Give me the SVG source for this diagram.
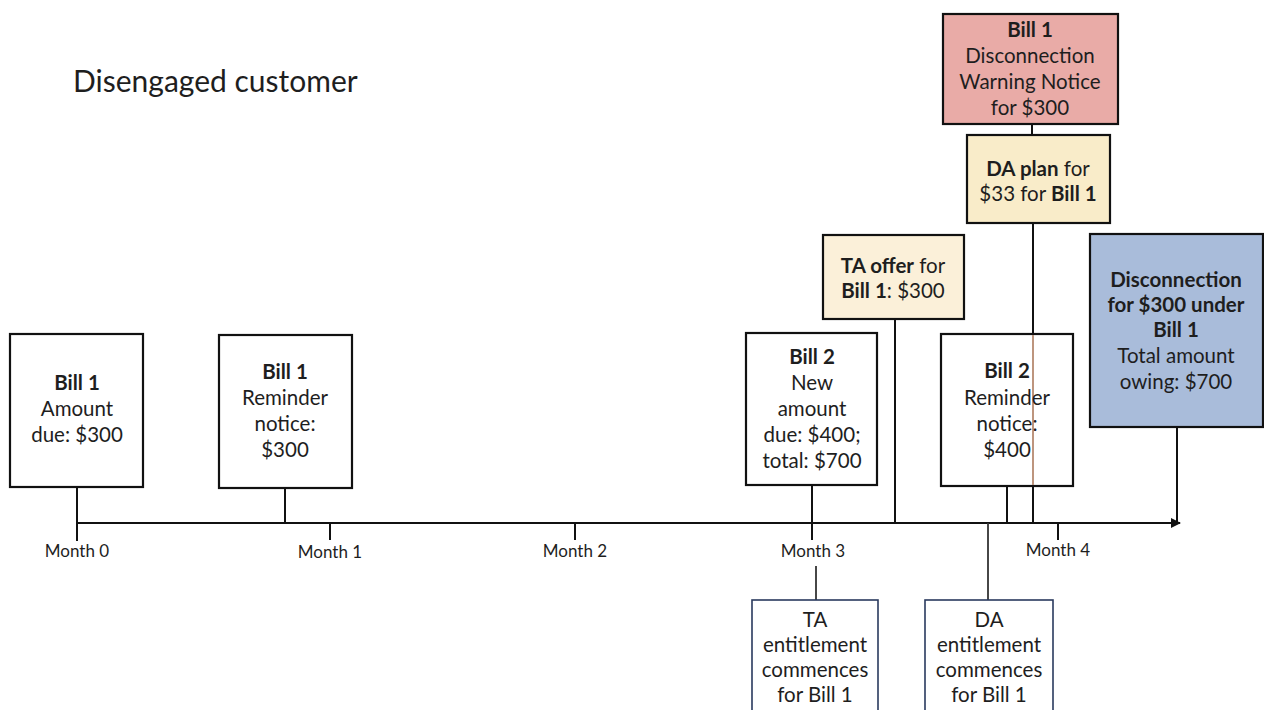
<svg xmlns="http://www.w3.org/2000/svg" width="1264" height="710" viewBox="0 0 1264 710">
<defs>
<style>
text{font-family:Lato,"Liberation Sans",sans-serif;fill:#1e1e1e;text-anchor:middle}
.t{font-size:20.5px}
.b{font-weight:bold}
.m{font-size:17px}
.title{font-size:30px;text-anchor:start}
.box{stroke:#111;stroke-width:2.2}
.ent{fill:#fff;stroke:#2a3a5e;stroke-width:1.6}
.ln{stroke:#111;stroke-width:2;fill:none}
.ln2{stroke:#333;stroke-width:1.8;fill:none}
</style>
<marker id="arr" viewBox="0 0 10 10" refX="9" refY="5" markerWidth="10" markerHeight="10" markerUnits="userSpaceOnUse" orient="auto">
<path d="M0,0 L10,5 L0,10 z" fill="#111"/>
</marker>
</defs>
<rect width="1264" height="710" fill="#fff"/>
<text class="title" x="73" y="92">Disengaged customer</text>

<g id="connectors">
<line class="ln" x1="76" y1="523" x2="1180" y2="523" marker-end="url(#arr)"/>
<line class="ln" x1="77" y1="487" x2="77" y2="541"/>
<line class="ln" x1="285" y1="488" x2="285" y2="523"/>
<line class="ln" x1="330" y1="523" x2="330" y2="540"/>
<line class="ln" x1="575" y1="523" x2="575" y2="540"/>
<line class="ln" x1="812" y1="485" x2="812" y2="540"/>
<line class="ln2" x1="816" y1="566" x2="816" y2="600"/>
<line class="ln" x1="895" y1="319" x2="895" y2="523"/>
<line class="ln2" x1="988" y1="523" x2="988" y2="600"/>
<line class="ln" x1="1007" y1="486" x2="1007" y2="523"/>
<line class="ln" x1="1032" y1="124" x2="1032" y2="135"/>
<line class="ln" x1="1033" y1="223" x2="1033" y2="334"/>
<line class="ln" x1="1033" y1="486" x2="1033" y2="523"/>
<line class="ln" x1="1058" y1="523" x2="1058" y2="540"/>
<line class="ln" x1="1177" y1="427" x2="1177" y2="523"/>
</g>

<g id="month-labels">
<text class="m" x="77" y="557">Month 0</text>
<text class="m" x="330" y="558">Month 1</text>
<text class="m" x="575" y="557">Month 2</text>
<text class="m" x="813" y="557">Month 3</text>
<text class="m" x="1058" y="556">Month 4</text>
</g>

<g id="bill1">
<rect class="box" x="10" y="334" width="133" height="153" fill="#fff"/>
<text class="t b" x="77" y="390">Bill 1</text>
<text class="t" x="77" y="416">Amount</text>
<text class="t" x="77" y="442">due: $300</text>
</g>

<g id="bill1-reminder">
<rect class="box" x="219" y="335" width="133" height="153" fill="#fff"/>
<text class="t b" x="285" y="379">Bill 1</text>
<text class="t" x="285" y="405">Reminder</text>
<text class="t" x="285" y="431">notice:</text>
<text class="t" x="285" y="457">$300</text>
</g>

<g id="bill2">
<rect class="box" x="746" y="333" width="131" height="152" fill="#fff"/>
<text class="t b" x="812" y="364">Bill 2</text>
<text class="t" x="812" y="390">New</text>
<text class="t" x="812" y="416">amount</text>
<text class="t" x="812" y="442">due: $400;</text>
<text class="t" x="812" y="468">total: $700</text>
</g>

<g id="ta-offer">
<rect class="box" x="823" y="235" width="141" height="84" fill="#fbf0d9"/>
<text class="t" x="893" y="273"><tspan class="b">TA offer</tspan> for</text>
<text class="t" x="893" y="298"><tspan class="b">Bill 1</tspan>: $300</text>
</g>

<g id="bill2-reminder">
<rect class="box" x="941" y="334" width="132" height="152" fill="#fff"/>
<line x1="1033" y1="335" x2="1033" y2="485" stroke="#b68a70" stroke-width="1.8"/>
<text class="t b" x="1007" y="378">Bill 2</text>
<text class="t" x="1007" y="405">Reminder</text>
<text class="t" x="1007" y="431">notice:</text>
<text class="t" x="1007" y="457">$400</text>
</g>

<g id="warning">
<rect class="box" x="943" y="14" width="175" height="110" fill="#e9aba7"/>
<text class="t b" x="1030" y="37">Bill 1</text>
<text class="t" x="1030" y="63">Disconnection</text>
<text class="t" x="1030" y="89">Warning Notice</text>
<text class="t" x="1030" y="115">for $300</text>
</g>

<g id="da-plan">
<rect class="box" x="967" y="135" width="143" height="88" fill="#f9ecc9"/>
<text class="t" x="1038" y="176"><tspan class="b">DA plan</tspan> for</text>
<text class="t" x="1038" y="201">$33 for <tspan class="b">Bill 1</tspan></text>
</g>

<g id="disconnection">
<rect class="box" x="1090" y="234" width="173" height="193" fill="#a9bcda"/>
<text class="t b" x="1176" y="287">Disconnection</text>
<text class="t b" x="1176" y="312">for $300 under</text>
<text class="t b" x="1176" y="337">Bill 1</text>
<text class="t" x="1176" y="363">Total amount</text>
<text class="t" x="1176" y="389">owing: $700</text>
</g>

<g id="ta-entitlement">
<rect class="ent" x="752" y="600" width="126" height="120"/>
<text class="t" x="815" y="627">TA</text>
<text class="t" x="815" y="652">entitlement</text>
<text class="t" x="815" y="677">commences</text>
<text class="t" x="815" y="702">for Bill 1</text>
</g>

<g id="da-entitlement">
<rect class="ent" x="925" y="600" width="128" height="120"/>
<text class="t" x="989" y="627">DA</text>
<text class="t" x="989" y="652">entitlement</text>
<text class="t" x="989" y="677">commences</text>
<text class="t" x="989" y="702">for Bill 1</text>
</g>
</svg>
